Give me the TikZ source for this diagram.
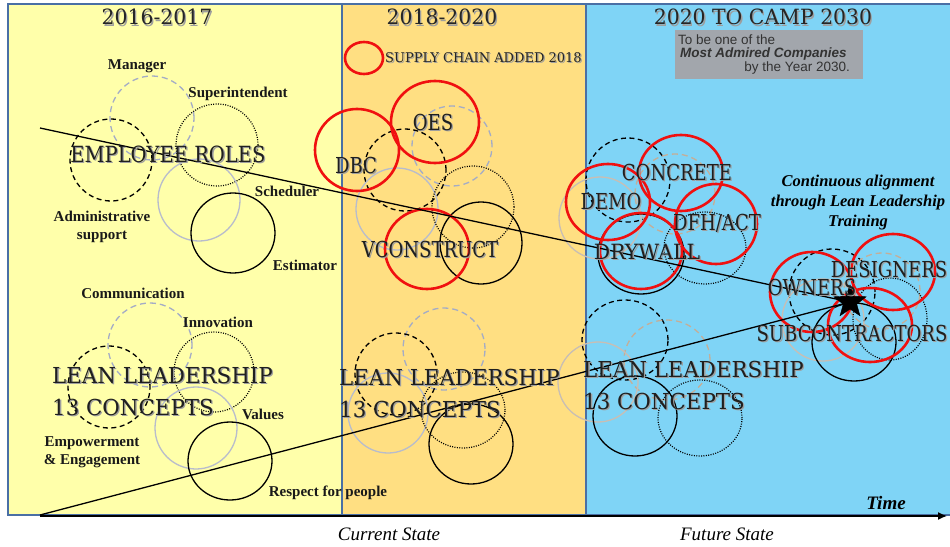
\documentclass[tikz,border=0pt]{standalone}
\usepackage{fontspec}
\setmainfont{Liberation Serif}
\newfontfamily\slabfont[FakeStretch=0.82]{DejaVu Serif}
\newfontfamily\wideslab[FakeStretch=0.97]{DejaVu Serif}
\newfontfamily\roleslab[FakeStretch=0.875]{DejaVu Serif}
\newfontfamily\arialfont{Liberation Sans}
\usetikzlibrary{shapes.geometric,arrows.meta}

% soft drop shadow behind the lettering
\newcommand\softshadow[1]{\makebox[0pt][l]{\kern1.3pt\raisebox{-1.3pt}{\color{black!38}#1}}#1}

\definecolor{paneYellow}{HTML}{FFFFAA}
\definecolor{paneOrange}{HTML}{FFDF82}
\definecolor{paneBlue}{HTML}{7FD4F6}
\definecolor{paneEdge}{HTML}{4A6FA5}
\definecolor{greyDash}{HTML}{A4ACC6}
\definecolor{greySolid}{HTML}{B8BCCC}
\definecolor{tanDash}{HTML}{C4AE98}
\definecolor{tanSolid}{HTML}{C8BEB4}
\definecolor{ringRed}{HTML}{F01010}
\definecolor{boxGrey}{HTML}{A2A6AC}
\definecolor{boxText}{HTML}{333333}

\tikzset{
  ring/.style={line width=1.3pt, draw=black},
  dashring/.style={ring, dash pattern=on 5pt off 3.5pt},
  dotring/.style={ring, line width=1.2pt, dash pattern=on 1pt off 1.4pt},
  greydash/.style={line width=1.3pt, draw=greyDash, dash pattern=on 6pt off 4pt},
  greysolid/.style={line width=1.3pt, draw=greySolid},
  tandash/.style={line width=1.3pt, draw=tanDash, dash pattern=on 6pt off 4pt},
  tansolid/.style={line width=1.3pt, draw=tanSolid},
  redring/.style={line width=2.6pt, draw=ringRed},
  role/.style={font=\bfseries\fontsize{15}{18.5}\selectfont, inner sep=0pt, text=black!90, align=center},
  heading/.style={font=\wideslab\fontsize{21}{24}\selectfont, inner sep=0pt, text=black!85},
  biglabel/.style={font=\slabfont\fontsize{22}{32}\selectfont, inner sep=0pt, text=black!88},
  leanlabel/.style={font=\wideslab\fontsize{22}{32}\selectfont, inner sep=0pt, text=black!88, anchor=west, align=left},
  trend/.style={line width=1.3pt, draw=black},
  caption/.style={font=\itshape\fontsize{19}{22}\selectfont, inner sep=0pt},
  boxline/.style={font=\arialfont\fontsize{13.5}{15}\selectfont, inner sep=0pt, text=boxText}
}

\begin{document}
\begin{tikzpicture}[x=1pt,y=-1pt]
\useasboundingbox (0,0) rectangle (950,546);
\fill[white] (0,0) rectangle (950,546);

% three time panels
\fill[paneYellow] (8,4) rectangle (342,515);
\fill[paneOrange] (342,4) rectangle (586,515);
\fill[paneBlue] (586,4) rectangle (950,515);
\draw[paneEdge, line width=1.3pt] (950,4) -- (8,4) -- (8,515) -- (950,515);
\draw[paneEdge, line width=1.3pt] (342,4) -- (342,515);
\draw[paneEdge, line width=1.3pt] (586,4) -- (586,515);

% ---- 2016-2017: employee roles
\draw[greydash] (152,118) circle[radius=42pt];
\draw[dashring] (111,160) circle[radius=41pt];
\draw[dotring] (217,145) circle[radius=41pt];
\draw[greysolid] (199,200) circle[radius=41pt];
\draw[ring] (233,233) ellipse[x radius=42pt, y radius=40pt];

% ---- 2016-2017: lean leadership
\draw[greydash] (150,345) circle[radius=42pt];
\draw[dashring] (109,387) circle[radius=41pt];
\draw[dotring] (214,372) circle[radius=40pt];
\draw[greysolid] (196,428) circle[radius=41pt];
\draw[ring] (230,461) ellipse[x radius=42pt, y radius=39pt];

% ---- 2018-2020: supply chain
\draw[redring] (364,58) ellipse[x radius=19pt, y radius=16pt];
\draw[greydash] (452,146) circle[radius=40pt];
\draw[dashring] (405,170) circle[radius=41pt];
\draw[greysolid] (397,209) circle[radius=41pt];
\draw[dotring] (473,207) circle[radius=41pt];
\draw[ring] (481,243) circle[radius=41pt];
\draw[redring] (435,122) ellipse[x radius=44pt, y radius=41pt];
\draw[redring] (357,150) ellipse[x radius=42pt, y radius=41pt];
\draw[redring] (427,249) ellipse[x radius=42pt, y radius=40pt];

% ---- 2018-2020: lean leadership
\draw[greydash] (444,349) circle[radius=41pt];
\draw[dashring] (396,374) circle[radius=41pt];
\draw[greysolid] (388,413) circle[radius=40pt];
\draw[dotring] (463,410) ellipse[x radius=42pt, y radius=38pt];
\draw[ring] (471,444) ellipse[x radius=42pt, y radius=40pt];

% ---- 2020 to 2030: trades
\draw[dashring] (628,180) circle[radius=42pt];
\draw[tandash] (675,194) circle[radius=40pt];
\draw[tansolid] (600,218) circle[radius=41pt];
\draw[dotring] (705,248) ellipse[x radius=41pt, y radius=36pt];
\draw[ring] (641,254) ellipse[x radius=43pt, y radius=40pt];
\draw[redring] (681,173) ellipse[x radius=42pt, y radius=38pt];
\draw[redring] (608,202) ellipse[x radius=42pt, y radius=38pt];
\draw[redring] (716,224) ellipse[x radius=41pt, y radius=40pt];
\draw[redring] (641,251) ellipse[x radius=41pt, y radius=38pt];

% ---- 2020 to 2030: project partners
\draw[dashring] (832,292) circle[radius=43pt];
\draw[tandash] (882,291) circle[radius=38pt];
\draw[dotring] (890,319) ellipse[x radius=37pt, y radius=41pt];
\draw[tansolid] (823,320) circle[radius=41pt];
\draw[ring] (854,342) ellipse[x radius=42pt, y radius=39pt];
\draw[redring] (812,292) ellipse[x radius=42pt, y radius=40pt];
\draw[redring] (893,272) ellipse[x radius=42pt, y radius=38pt];
\draw[redring] (870,325) ellipse[x radius=42pt, y radius=37pt];

% ---- 2020 to 2030: lean leadership
\draw[dashring] (625,340) ellipse[x radius=43pt, y radius=40pt];
\draw[tandash] (667,360) ellipse[x radius=43pt, y radius=40pt];
\draw[tansolid] (598,382) circle[radius=40pt];
\draw[ring] (635,416) ellipse[x radius=42pt, y radius=40pt];
\draw[dotring] (700,418) ellipse[x radius=42pt, y radius=38pt];

% time axis
\coordinate (axisStart) at (40,516);
\coordinate (axisEnd) at (947,516);
\draw[line width=1.4pt, -{Latex[length=9pt, width=8pt]}] (axisStart) -- (axisEnd);

% the two trend lines meeting at the goal
\node[star, star points=5, star point ratio=2.4, fill=black, draw=black,
      minimum size=34pt, inner sep=0pt] (goal) at (850,302) {};
\coordinate (rolesStart) at (40,128);
\coordinate (leanStart) at (40,515);
\draw[trend] (rolesStart) -- (goal.center);
\draw[trend] (leanStart) -- (goal.center);

% headings
\node[heading] (h1) at (157,18) {\softshadow{2016-2017}};
\node[heading] (h2) at (442,18) {\softshadow{2018-2020}};
\node[heading] (h3) at (763,18) {\softshadow{2020 TO CAMP 2030}};

% mission box
\node[fill=boxGrey, minimum width=188pt, minimum height=49pt, inner sep=0pt] (mission) at (768.5,54.5) {};
\node[boxline, anchor=west] (m1) at (678,40) {To be one of the};
\node[boxline, anchor=west, font=\arialfont\bfseries\itshape\fontsize{13.5}{15}\selectfont] (m2) at (680,54) {Most Admired Companies};
\node[boxline, anchor=east] (m3) at (850,68) {by the Year 2030.};

% legend
\node[font=\wideslab\fontsize{13.4}{16}\selectfont, inner sep=0pt, anchor=west, text=black!85] (legend) at (385,58) {\softshadow{SUPPLY CHAIN ADDED 2018}};

% role labels, 2016-2017
\node[role] (manager) at (137,66) {Manager};
\node[role] (super) at (238,94) {Superintendent};
\node[role] (sched) at (287,191) {Scheduler};
\node[role] (admin) at (102,227) {Administrative\\support};
\node[role] (estim) at (305,265) {Estimator};
\node[biglabel, font=\roleslab\fontsize{22.3}{32}\selectfont] (roles) at (168,155) {\softshadow{EMPLOYEE ROLES}};

\node[role] (comm) at (133,293) {Communication};
\node[role] (innov) at (218,322) {Innovation};
\node[role] (values) at (263,414) {Values};
\node[role] (empower) at (92,452) {Empowerment\\\& Engagement};
\node[role] (respect) at (328,493) {Respect for people};
\node[leanlabel] (lean1) at (52,392) {\softshadow{LEAN LEADERSHIP}\\\softshadow{13 CONCEPTS}};

% 2018-2020 labels
\node[biglabel] (oes) at (433,123) {\softshadow{OES}};
\node[biglabel] (dbc) at (356,166) {\softshadow{DBC}};
\node[biglabel] (vcon) at (430,250) {\softshadow{VCONSTRUCT}};
\node[leanlabel] (lean2) at (339,394) {\softshadow{LEAN LEADERSHIP}\\\softshadow{13 CONCEPTS}};

% 2020 to 2030 labels
\node[biglabel] (concrete) at (677,173) {\softshadow{CONCRETE}};
\node[biglabel] (demo) at (611,202) {\softshadow{DEMO}};
\node[biglabel] (dfh) at (717,224) {\softshadow{DFH/ACT}};
\node[biglabel, font=\wideslab\fontsize{21}{32}\selectfont] (drywall) at (647,252) {\softshadow{DRYWALL}};
\node[biglabel] (designers) at (889,270) {\softshadow{DESIGNERS}};
\node[biglabel] (owners) at (812,288) {\softshadow{OWNERS}};
\node[biglabel] (subs) at (852,334) {\softshadow{SUBCONTRACTORS}};
\node[leanlabel] (lean3) at (583,386) {\softshadow{LEAN LEADERSHIP}\\\softshadow{13 CONCEPTS}};

\node[font=\bfseries\itshape\fontsize{16.5}{20}\selectfont, align=center, inner sep=0pt] (align) at (858,203)
  {Continuous alignment\\through Lean Leadership\\Training};

% axis captions
\node[font=\bfseries\itshape\fontsize{19}{22}\selectfont, inner sep=0pt] (time) at (886,503) {Time};
\node[caption] (current) at (389,534) {Current State};
\node[caption] (future) at (727,534) {Future State};
\end{tikzpicture}
\end{document}
